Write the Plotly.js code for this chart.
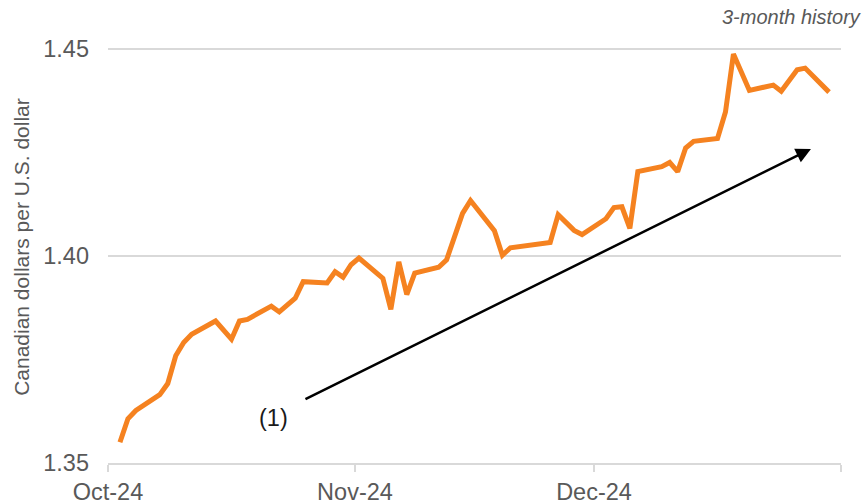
<!DOCTYPE html>
<html>
<head>
<meta charset="utf-8">
<script src="https://cdn.plot.ly/plotly-3.0.1.min.js"></script>
<style>
  html, body { margin: 0; padding: 0; background: #ffffff; }
  #chart { width: 865px; height: 503px; }
</style>
</head>
<body>
<div id="chart"></div>
<script>
// USD/CAD daily closing rate, Oct–Dec 2024
const dates = [
  '2024-10-02','2024-10-03','2024-10-04','2024-10-07','2024-10-08','2024-10-09','2024-10-10','2024-10-11',
  '2024-10-14','2024-10-16','2024-10-17','2024-10-18','2024-10-21','2024-10-22','2024-10-24','2024-10-25',
  '2024-10-28','2024-10-29','2024-10-30','2024-10-31','2024-11-01','2024-11-04','2024-11-05','2024-11-06',
  '2024-11-07','2024-11-08','2024-11-11','2024-11-12','2024-11-14','2024-11-15','2024-11-18','2024-11-19',
  '2024-11-20','2024-11-25','2024-11-26','2024-11-27','2024-11-28','2024-11-29','2024-12-02','2024-12-03',
  '2024-12-04','2024-12-05','2024-12-06','2024-12-09','2024-12-10','2024-12-11','2024-12-12','2024-12-13',
  '2024-12-16','2024-12-17','2024-12-18','2024-12-20','2024-12-23','2024-12-24','2024-12-26','2024-12-27',
  '2024-12-30'
];
const cadPerUsd = [
  1.3550, 1.3607, 1.3627, 1.3665, 1.3692, 1.3759, 1.3791, 1.3811,
  1.3843, 1.3799, 1.3843, 1.3847, 1.3879, 1.3865, 1.3898, 1.3938,
  1.3935, 1.3962, 1.3949, 1.3979, 1.3995, 1.3946, 1.3871, 1.3986,
  1.3907, 1.3959, 1.3973, 1.3991, 1.4103, 1.4134, 1.4061, 1.4002,
  1.4020, 1.4033, 1.4100, 1.4080, 1.4062, 1.4052, 1.4090, 1.4117,
  1.4119, 1.4067, 1.4204, 1.4216, 1.4226, 1.4204, 1.4261, 1.4277,
  1.4284, 1.4348, 1.4488, 1.4400, 1.4413, 1.4398, 1.4450, 1.4454,
  1.4396
];

// Axis ticks
const monthTicks = ['2024-10-01', '2024-11-01', '2024-12-01', '2025-01-01'];
const monthLabels = ['Oct-24', 'Nov-24', 'Dec-24', ''];
const rateTicks = [1.35, 1.40, 1.45];

const FONT = 'Liberation Sans, Arial, Helvetica, sans-serif';
const GREY_TEXT = '#595959';
const GRID = '#d9d9d9';

const trace = {
  type: 'scatter',
  mode: 'lines',
  x: dates,
  y: cadPerUsd,
  // each daily value sits in the middle of its day
  xperiod: 86400000,
  xperiodalignment: 'middle',
  line: { color: '#F58220', width: 5 },
  cliponaxis: false,
  hoverinfo: 'x+y'
};

const layout = {
  width: 865,
  height: 503,
  margin: { l: 108, r: 24, t: 47, b: 40 },
  paper_bgcolor: '#ffffff',
  plot_bgcolor: '#ffffff',
  showlegend: false,
  font: { family: FONT, color: GREY_TEXT },
  xaxis: {
    type: 'date',
    range: ['2024-10-01', '2025-01-01'],
    tickmode: 'array',
    tickvals: monthTicks,
    ticktext: monthLabels,
    showgrid: false,
    zeroline: false,
    showline: true,
    linecolor: GRID,
    linewidth: 2,
    ticks: 'outside',
    ticklen: 7,
    tickwidth: 2,
    tickcolor: GRID,
    tickfont: { family: FONT, size: 23.5, color: GREY_TEXT },
    fixedrange: true
  },
  yaxis: {
    range: [1.35, 1.4505],
    tickmode: 'array',
    tickvals: rateTicks,
    tickformat: '.2f',
    showgrid: true,
    gridcolor: GRID,
    gridwidth: 1.5,
    zeroline: false,
    showline: false,
    ticks: '',
    ticklabelstandoff: 18,
    tickfont: { family: FONT, size: 23.5, color: GREY_TEXT },
    fixedrange: true
  },
  annotations: [
    {
      text: 'Canadian dollars per U.S. dollar',
      xref: 'paper', yref: 'paper',
      x: -0.119, y: 0.519,
      xanchor: 'center', yanchor: 'middle',
      textangle: -90,
      showarrow: false,
      font: { family: FONT, size: 21, color: GREY_TEXT }
    },
    {
      text: '<i>3-month history</i>',
      xref: 'paper', yref: 'paper',
      x: 1.030, y: 1.072,
      xanchor: 'right', yanchor: 'middle',
      showarrow: false,
      font: { family: FONT, size: 20, color: GREY_TEXT }
    },
    {
      text: '(1)',
      xref: 'paper', yref: 'paper',
      x: 0.226, y: 0.108,
      xanchor: 'center', yanchor: 'middle',
      showarrow: false,
      font: { family: FONT, size: 23.5, color: '#1a1a1a' }
    },
    {
      text: '',
      xref: 'paper', yref: 'paper',
      x: 0.959, y: 0.755,
      axref: 'pixel', ayref: 'pixel',
      ax: -507, ay: 251,
      showarrow: true,
      arrowhead: 2,
      arrowsize: 1.2,
      arrowwidth: 2.5,
      arrowcolor: '#000000',
      standoff: 0
    }
  ]
};

Plotly.newPlot('chart', [trace], layout, { displayModeBar: false, staticPlot: true });
</script>
</body>
</html>
